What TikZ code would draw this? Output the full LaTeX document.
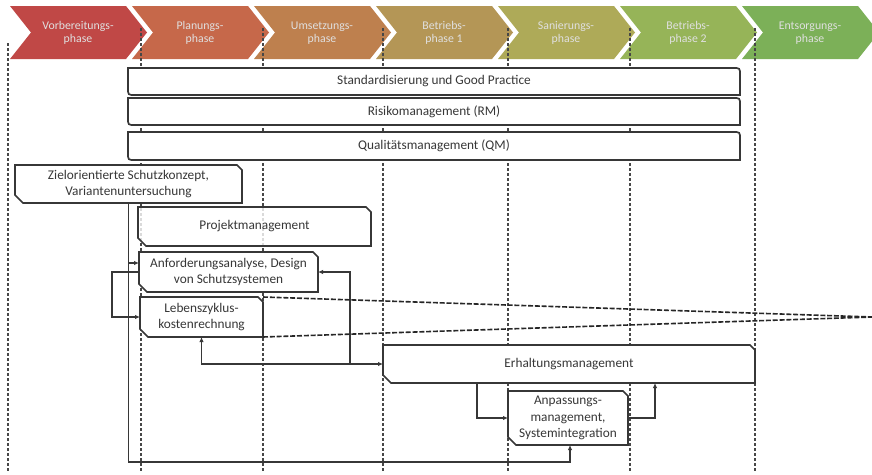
\documentclass[tikz,border=0pt]{standalone}
\usepackage{fontspec}
\setmainfont{Carlito}
\usetikzlibrary{arrows.meta}
\definecolor{phA}{RGB}{192,72,70}
\definecolor{phB}{RGB}{198,104,74}
\definecolor{phC}{RGB}{190,128,78}
\definecolor{phD}{RGB}{180,150,86}
\definecolor{phE}{RGB}{174,170,88}
\definecolor{phF}{RGB}{150,180,88}
\definecolor{phG}{RGB}{124,176,88}
\definecolor{linegray}{RGB}{55,55,55}
\definecolor{textgray}{RGB}{55,55,55}
\newcommand\phasechev[5]{%
  \fill[#3] (#2,6) -- ++(116,0) -- ++(21,26.5) -- ++(-21,26.5) -- ++(-116,0) -- ++(21,-26.5) -- cycle;
  \node[phasetext] (#1) at ({#2+68},33) {#4\\#5};}
\newcommand\snipbox[7]{%
  \filldraw[boxline,#7] (#2,#3) -- ({#4-5},#3) -- (#4,{#3+5}) -- (#4,#5) -- ({#2+8},#5) -- (#2,{#5-8}) -- cycle;
  \node[boxtext,minimum width={(#4-#2)*1pt},minimum height={(#5-#3)*1pt}] (#1) at ({(#2+#4)/2},{(#3+#5)/2}) {#6};}
\newcommand\widebox[4]{%
  \filldraw[boxline] (128,#2) -- (733,#2) .. controls (740,#2) .. (740,{#2+7}) -- (740,#3) -- (135,#3) .. controls (128,#3) .. (128,{#3-7}) -- cycle;
  \node[boxtext,minimum width=612pt,minimum height={(#3-#2)*1pt}] (#1) at (434,{(#2+#3)/2}) {#4};}
\begin{document}
\begin{tikzpicture}[x=1pt,y=-1pt,
  phasetext/.style={text=white!88!black,font=\fontsize{11.8}{13.5}\selectfont,align=center,inner sep=0pt},
  boxline/.style={draw=linegray,line width=1.7pt,fill=white},
  boxtext/.style={text=textgray,font=\fontsize{13.3}{16.8}\selectfont,align=center,inner sep=0pt,outer sep=0pt},
  vdash/.style={draw=black!72,line width=1.1pt,dash pattern=on 3pt off 2pt},
  convdash/.style={draw=black!85,line width=1.6pt,dash pattern=on 5pt off 1.8pt},
  conn/.style={draw=linegray,line width=1.4pt},
  tip/.style={-{Latex[length=5pt,width=4.5pt]}},
  bitip/.style={{Latex[length=5pt,width=4.5pt]}-{Latex[length=5pt,width=4.5pt]}}]
\useasboundingbox (0,0) rectangle (872,474);
\fill[white] (0,0) rectangle (872,474);
% phases
\phasechev{p1}{10}{phA}{Vorbereitungs-}{phase}
\phasechev{p2}{132}{phB}{Planungs-}{phase}
\phasechev{p3}{254}{phC}{Umsetzungs-}{phase}
\phasechev{p4}{376}{phD}{Betriebs-}{phase 1}
\phasechev{p5}{498}{phE}{Sanierungs-}{phase}
\phasechev{p6}{620}{phF}{Betriebs-}{phase 2}
\phasechev{p7}{742}{phG}{Entsorgungs-}{phase}
% phase separators
\foreach \x/\t in {8/43,141/28,263/28,383/28,508/28,630/28,755/28}
  \draw[vdash] (\x,\t) -- (\x,472);
% wide boxes
\widebox{std}{68}{95}{Standardisierung und Good Practice}
\widebox{rm}{98}{125}{Risikomanagement (RM)}
\widebox{qm}{132}{160}{Qualitätsmanagement (QM)}
% process boxes
\snipbox{ziel}{15}{165}{242}{203}{Zielorientierte Schutzkonzept,\\Variantenuntersuchung}{}
\snipbox{proj}{138}{207}{371}{246}{Projektmanagement}{fill opacity=0.8}
\snipbox{anf}{139}{252}{318}{292}{Anforderungsanalyse, Design\\von Schutzsystemen}{}
\snipbox{leb}{140}{297}{263}{337}{Lebenszyklus-\\kostenrechnung}{}
\snipbox{erh}{383}{345}{755}{383}{Erhaltungsmanagement}{}
\snipbox{anp}{508}{391}{628}{445}{Anpassungs-\\management,\\Systemintegration}{}
% helper coordinates
\coordinate (bottom) at (0,462);
\coordinate (loopx) at (112,0);
\coordinate (br) at (350,364);
\coordinate (conv) at (872,317);
% connectors
\draw[conn,tip] (ziel.south) |- ([yshift=9pt]anf.west);
\draw[conn,tip] (ziel.south) -- (ziel.south |- bottom) -| ([xshift=2pt]anp.south);
\draw[conn,tip] (anf.west) -- (anf.west -| loopx) |- (leb.west);
\draw[conn,bitip] (leb.south) |- (erh.west);
\draw[conn,tip] (br) |- (anf.east);
\draw[conn,tip] ([xshift=-92pt]erh.south) |- (anp.west);
\draw[conn,tip] (anp.east) -| ([xshift=86pt]erh.south);
% converging dashed lines
\draw[convdash] (leb.north east) -- (conv);
\draw[convdash] (leb.south east) -- (conv);
\end{tikzpicture}
\end{document}
